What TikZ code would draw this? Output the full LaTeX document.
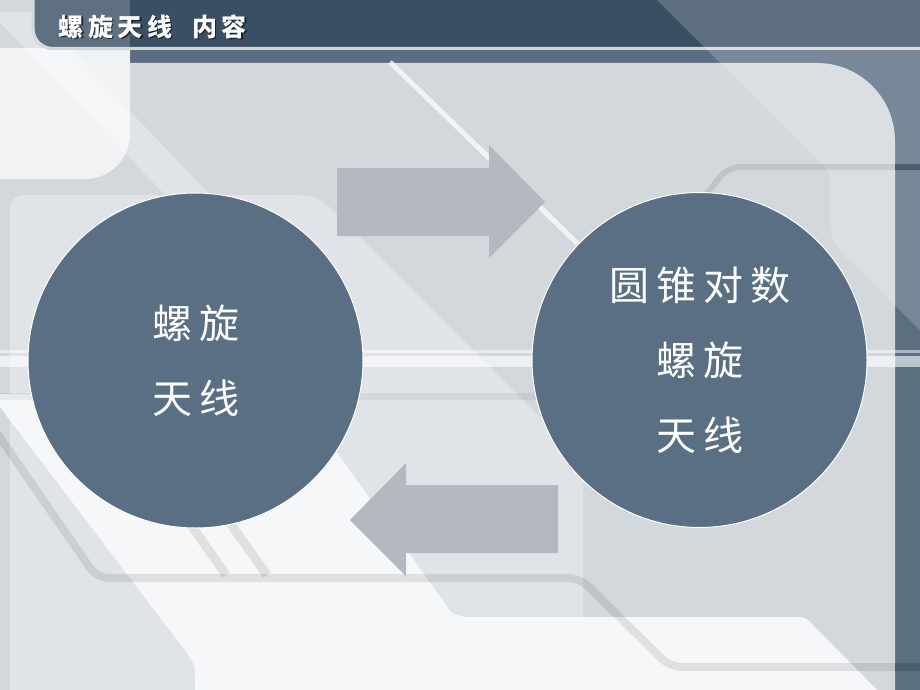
\documentclass[tikz,border=0pt]{standalone}
\usepackage{fontspec}
\newfontfamily\cjk{Noto Sans CJK SC}
\definecolor{framec}{HTML}{5B6E82}
\definecolor{bodyc}{HTML}{D3D8DD}
\definecolor{lightc}{HTML}{E0E4E8}
\definecolor{paperc}{HTML}{F6F7F9}
\definecolor{headc}{HTML}{3A4F63}
\definecolor{rimc}{HTML}{D0D6DC}
\definecolor{discc}{HTML}{5B6F84}
\definecolor{arrc}{HTML}{B4B9C1}
\definecolor{tickc}{HTML}{4B5E70}
\newcommand\cgap{\hspace{7pt}}
\newcommand\tgap{\hspace{4.5pt}}
\newcommand\titletext{螺\tgap 旋\tgap 天\tgap 线\hspace{20pt}内\tgap 容}

\begin{document}
\begin{tikzpicture}[
  x=1pt,y=-1pt,
  disc/.style={circle,fill=discc,draw=white,line width=1pt,minimum size=335pt,inner sep=0pt,
    text=white,align=center,font=\cjk\fontsize{40}{75}\selectfont},
  blockarr/.style={fill=arrc},
  trace/.style={draw=black,draw opacity=.09,line width=8pt,rounded corners=12pt},
  headline/.style={anchor=west,font=\cjk\bfseries\fontsize{25}{25}\selectfont}
]
\clip (0,0) rectangle (920,690);

% background of the slide
\fill[framec] (0,0) rectangle (920,690);
\fill[bodyc,rounded corners=78pt] (-100,63) rectangle (895,800);
\fill[bodyc] (-10,-10) rectangle (130,64);
\fill[lightc] (10,700) -- (10,208) .. controls (10,199) and (16,195) .. (25,195)
  -- (278,195) .. controls (318,195) .. (346,223) -- (583,460) -- (583,700) -- cycle;
\fill[lightc] (-10,12) -- (35,12) -- (215,200) -- (170,200) -- cycle;
\fill[white,opacity=.68] (-10,48) -- (130,48) -- (130,134) .. controls (130,159) and (110,179) .. (85,179) -- (-10,179) -- cycle;

% header bar
\filldraw[fill=headc,draw=rimc,line width=3pt,rounded corners=20pt] (33,-40) rectangle (960,48.5);
\begin{scope}
  \clip[rounded corners=20pt] (33,-40) rectangle (960,48.5);
  \fill[white,opacity=.19] (0,-10) rectangle (130,48.5);
\end{scope}
\fill[white,opacity=.18] (652,-5) -- (830,173) -- (830,222) .. controls (830,242) and (838,250) .. (852,263)
  -- (925,335) -- (925,-5) -- cycle;

% white band and stripes
\fill[paperc] (-10,394) -- (298,398) -- (447,606) .. controls (452,614) .. (465,617) -- (790,617)
  .. controls (806,617) .. (815,627) -- (882,695) -- (195,695) -- (195,680) .. controls (195,665) .. (187,653) -- cycle;
\fill[white,opacity=.5] (-5,350) rectangle (925,353);
\fill[white,opacity=.6] (-5,356) rectangle (925,367);
\fill[black,opacity=.05] (-5,393) rectangle (583,400);
\draw[white,opacity=.7,line width=5pt] (390,62) -- (610,275);
\draw[trace] (-15,416) -- (97,578) -- (580,578) -- (670,667) -- (930,667);
\draw[trace,line width=6pt] (690,215) -- (728,167) -- (930,167);
\draw[black,opacity=.09,line width=9pt] (151,468) -- (226,575);
\draw[black,opacity=.09,line width=9pt] (191,468) -- (267,575);
\fill[tickc] (895,164) rectangle (920,170);
\fill[tickc] (895,663) rectangle (920,671);

% arrows
\fill[blockarr] (337,168) -- (489,168) -- (489,145) -- (545,202) -- (489,258) -- (489,236) -- (337,236) -- cycle;
\fill[blockarr] (558,485) -- (406,485) -- (406,463) -- (350,520) -- (406,576) -- (406,553) -- (558,553) -- cycle;

% circles
\node[disc] (spiral) at (195.5,360.5) {螺\cgap 旋\\天\cgap 线};
\node[disc] (conical) at (699.5,360) {圆\cgap 锥\cgap 对\cgap 数\\螺\cgap 旋\\天\cgap 线};

% title
\node[headline,text=black,text opacity=.6] (titleshade) at (56.5,28) {\titletext};
\node[headline,text=white] (title) at (55,26.5) {\titletext};
\end{tikzpicture}
\end{document}
